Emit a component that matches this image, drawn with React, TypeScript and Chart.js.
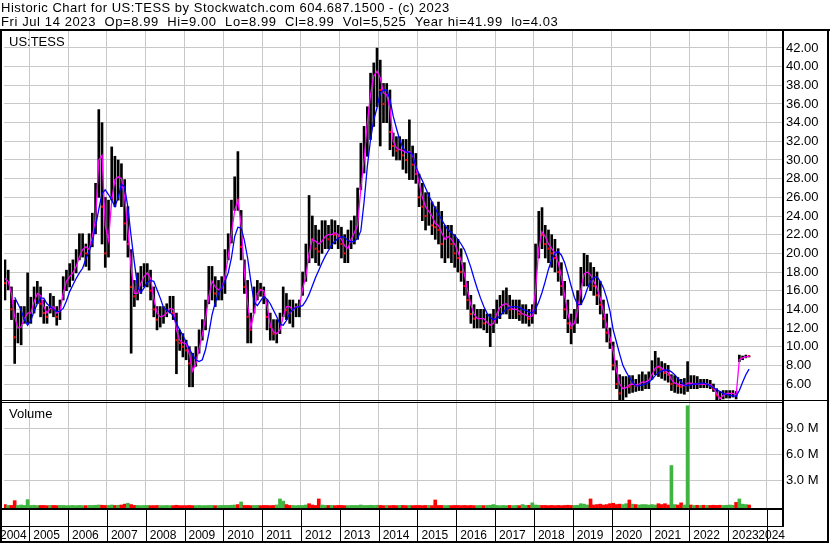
import React, { useEffect, useRef } from 'react';
import { Chart, registerables } from 'chart.js';

Chart.register(...registerables);

// ---------- text ----------
const HEADER1 = 'Historic Chart for US:TESS by Stockwatch.com 604.687.1500 - (c) 2023';
const HEADER2 = 'Fri Jul 14 2023  Op=8.99  Hi=9.00  Lo=8.99  Cl=8.99  Vol=5,525  Year hi=41.99  lo=4.03';
const PRICE_LABEL = 'US:TESS';
const VOLUME_LABEL = 'Volume';

// ---------- categories / ticks ----------
const FIRST_MONTH = '2004-05';
const yearTicks = [2004, 2005, 2006, 2007, 2008, 2009, 2010, 2011, 2012, 2013, 2014, 2015, 2016, 2017, 2018, 2019, 2020, 2021, 2022, 2023, 2024];
const priceTicks = [6, 8, 10, 12, 14, 16, 18, 20, 22, 24, 26, 28, 30, 32, 34, 36, 38, 40, 42];
const volumeTicks = [3, 6, 9];

// ---------- monthly data (May 2004 .. Jul 2023) ----------
const high = [
  19.3, 18.2, 16.4, 15.0, 13.6, 14.3, 14.3, 17.9,
  15.3, 16.4, 17.0, 16.4, 15.0, 14.3, 15.7, 15.4, 14.3, 15.0, 17.5, 18.2,
  18.9, 19.3, 20.4, 22.1, 22.1, 21.0, 22.1, 24.3, 27.5, 35.4, 34.0, 26.0,
  25.7, 31.4, 30.4, 30.0, 29.6, 27.9, 25.0, 20.4, 17.1, 17.9, 18.6, 18.9,
  18.9, 18.2, 16.4, 14.3, 14.3, 14.3, 14.6, 15.4, 15.4, 13.6, 11.8, 11.4,
  10.7, 10.0, 9.3, 10.0, 11.8, 12.9, 15.0, 18.6, 18.6, 17.5, 17.1, 17.5,
  20.4, 22.1, 25.7, 28.2, 30.9, 24.6, 19.3, 17.1, 13.6, 16.4, 17.1, 16.8,
  16.4, 15.0, 13.6, 12.9, 12.9, 13.6, 16.4, 15.7, 15.0, 15.0, 14.6, 15.0,
  18.0, 21.0, 26.2, 24.0, 23.0, 22.5, 23.5, 23.5, 23.0, 23.6, 23.5, 23.0,
  22.8, 22.0, 22.5, 23.5, 24.0, 27.0, 31.8, 33.6, 35.7, 39.3, 40.4, 41.99,
  40.7, 38.2, 38.2, 37.5, 32.9, 32.5, 32.5, 32.2, 32.2, 34.3, 31.5, 30.7,
  28.5, 27.5, 26.5, 26.5, 25.5, 25.0, 25.5, 24.5, 23.0, 23.0, 23.0, 22.0,
  21.5, 20.5, 19.0, 17.0, 15.5, 14.5, 14.0, 14.0, 14.0, 13.5, 13.5, 14.0,
  15.0, 15.5, 16.0, 16.3, 15.5, 15.0, 15.0, 15.0, 14.5, 14.5, 14.0, 14.5,
  21.0, 24.5, 24.9, 23.0, 22.5, 22.0, 21.5, 20.5, 19.0, 17.0, 15.0, 13.5,
  14.0, 16.0, 18.5, 20.0, 19.8, 19.0, 18.5, 18.0, 17.0, 15.0, 13.5, 12.0,
  10.5, 8.5, 7.0, 6.8, 6.8, 6.9, 6.9, 6.5, 7.0, 7.3, 7.0, 7.3,
  8.5, 9.5, 8.8, 8.4, 8.2, 8.0, 7.0, 6.9, 6.7, 6.5, 6.6, 8.4,
  6.9, 6.9, 6.8, 6.5, 6.5, 6.5, 6.4, 6.0, 5.5, 5.2, 5.3, 5.3,
  5.3, 5.3, 5.2, 9.1, 9.0, 9.1, 9.0,
];
const low = [
  15.0, 16.1, 12.9, 8.2, 10.4, 10.2, 12.5, 12.5,
  12.5, 13.6, 14.6, 13.2, 12.5, 12.5, 13.6, 13.2, 12.3, 12.9, 15.0, 16.0,
  16.4, 17.1, 17.9, 19.3, 19.6, 18.6, 18.2, 20.7, 22.1, 26.0, 21.0, 18.5,
  19.6, 25.7, 25.0, 25.7, 25.0, 21.4, 19.6, 9.3, 14.3, 15.0, 15.7, 16.4,
  16.4, 15.0, 13.2, 11.8, 12.1, 12.5, 13.2, 13.6, 12.9, 7.1, 9.6, 8.9,
  8.6, 5.7, 5.7, 7.9, 9.3, 10.7, 11.8, 14.6, 15.0, 14.3, 15.0, 15.0,
  15.7, 19.3, 21.1, 24.6, 24.6, 19.3, 15.7, 10.4, 10.4, 13.6, 15.0, 15.4,
  14.6, 11.8, 10.7, 10.7, 10.4, 11.4, 13.2, 12.9, 12.5, 12.1, 13.2, 13.2,
  15.5, 17.0, 19.0, 19.5, 19.0, 18.7, 20.0, 20.5, 20.5, 20.5, 21.0, 20.5,
  19.5, 19.0, 19.0, 20.5, 21.0, 21.5, 26.8, 28.6, 30.4, 32.2, 33.6, 35.7,
  31.5, 34.0, 34.0, 31.1, 30.4, 30.0, 30.0, 29.0, 28.6, 27.9, 27.9, 27.5,
  25.0, 23.5, 22.5, 23.0, 22.0, 21.5, 21.0, 19.5, 19.0, 19.5, 19.0, 18.5,
  18.0, 17.0, 15.5, 14.0, 12.5, 12.0, 12.0, 12.0, 11.8, 11.5, 10.0, 11.5,
  12.5, 13.0, 13.5, 13.5, 13.0, 13.0, 13.0, 12.8, 12.5, 12.5, 12.2, 12.5,
  13.5, 19.5, 20.5, 19.5, 19.0, 18.5, 18.0, 17.0, 15.5, 13.0, 11.5, 10.3,
  11.5, 12.5, 14.5, 16.5, 16.5, 16.0, 15.5, 14.5, 13.5, 12.0, 10.5, 9.8,
  7.5, 5.5, 4.2, 4.3, 4.6, 5.0, 5.1, 5.2, 5.3, 5.3, 5.5, 5.5,
  6.5, 7.0, 6.8, 6.6, 6.4, 6.2, 5.3, 5.1, 5.0, 5.0, 4.9, 5.2,
  5.5, 5.5, 5.5, 5.6, 5.6, 5.6, 5.5, 5.2, 4.3, 4.03, 4.4, 4.5,
  4.5, 4.6, 4.4, 8.4, 8.6, 8.8, 8.9,
];
const close = [
  16.8, 16.8, 14.0, 11.0, 11.6, 12.5, 13.4, 13.9,
  14.3, 15.4, 15.7, 14.6, 13.6, 13.2, 14.6, 14.0, 13.2, 14.3, 16.8, 17.5,
  17.9, 18.2, 19.3, 20.4, 21.0, 20.0, 21.4, 23.6, 25.7, 33.0, 25.0, 20.0,
  24.3, 28.2, 27.5, 28.6, 27.1, 23.2, 21.0, 16.4, 15.4, 16.8, 17.5, 17.5,
  17.9, 16.0, 14.0, 12.9, 13.2, 13.6, 13.9, 14.6, 13.6, 10.7, 10.4, 10.0,
  9.6, 8.2, 7.5, 9.3, 10.7, 12.1, 14.0, 17.1, 17.1, 15.7, 16.0, 16.4,
  18.6, 21.0, 24.3, 27.1, 25.7, 20.7, 16.4, 13.2, 11.8, 15.4, 16.4, 16.1,
  15.4, 13.2, 12.1, 11.4, 11.4, 12.5, 14.6, 13.9, 13.6, 13.9, 14.3, 14.3,
  17.5, 20.0, 22.0, 21.5, 20.5, 20.2, 22.0, 22.5, 21.5, 22.5, 22.0, 21.8,
  21.0, 20.0, 21.5, 22.5, 22.5, 26.0, 29.5, 31.5, 33.5, 37.0, 38.5, 39.0,
  37.5, 36.0, 36.5, 33.0, 31.5, 31.0, 31.0, 30.5, 30.0, 30.5, 29.5, 28.5,
  26.0, 25.0, 24.0, 24.5, 23.0, 22.8, 22.5, 21.0, 21.0, 22.0, 21.0, 20.0,
  19.5, 18.0, 16.5, 15.0, 13.5, 13.0, 13.0, 13.0, 12.5, 12.5, 12.5, 13.0,
  14.0, 14.5, 14.5, 14.5, 14.0, 14.0, 14.0, 13.5, 13.5, 13.5, 13.0, 13.5,
  20.0, 22.5, 22.0, 21.0, 20.5, 20.0, 19.5, 18.0, 16.5, 14.0, 12.5, 12.0,
  13.0, 15.0, 17.5, 18.0, 18.0, 17.0, 16.5, 15.5, 14.5, 13.0, 11.5, 10.5,
  8.0, 6.0, 5.0, 5.5, 5.8, 5.7, 6.0, 5.8, 6.3, 6.3, 6.5, 6.8,
  7.8, 8.0, 7.8, 7.5, 7.2, 7.0, 6.0, 6.0, 5.8, 5.7, 5.8, 6.5,
  6.0, 6.2, 6.0, 6.1, 6.0, 6.0, 5.8, 5.5, 4.8, 4.5, 5.0, 5.0,
  5.0, 5.0, 4.8, 8.8, 8.9, 9.0, 8.99,
];
const maShort = [
  17.3, 17.0, 15.7, 13.2, 12.0, 12.1, 13.0, 13.6,
  13.6, 14.8, 15.7, 15.5, 14.3, 13.6, 14.1, 14.3, 13.6, 13.8, 15.7, 17.0,
  17.5, 17.9, 18.6, 19.6, 20.4, 20.7, 20.4, 21.8, 23.6, 30.0, 30.5, 23.0,
  21.4, 25.7, 27.9, 28.2, 28.0, 26.0, 22.5, 18.5, 15.7, 15.7, 16.8, 17.5,
  17.9, 17.3, 15.2, 13.6, 13.2, 13.3, 13.6, 14.1, 14.0, 11.8, 10.7, 10.4,
  10.3, 9.2, 7.4, 8.2, 9.8, 11.3, 13.0, 15.3, 17.0, 16.4, 16.1, 16.2,
  17.5, 19.6, 22.1, 24.6, 25.7, 23.0, 18.0, 14.6, 12.1, 13.6, 15.7, 16.1,
  16.0, 14.4, 12.3, 11.6, 11.4, 11.8, 13.2, 14.3, 14.3, 13.9, 14.3, 14.3,
  16.2, 17.5, 20.0, 21.5, 21.3, 21.0, 21.3, 21.8, 22.0, 22.0, 22.2, 22.0,
  21.5, 20.8, 20.5, 21.5, 22.2, 23.0, 27.0, 30.0, 34.0, 37.0, 39.0, 39.5,
  38.8, 37.2, 37.0, 35.5, 32.0, 31.3, 31.1, 31.0, 30.8, 30.9, 30.5, 29.3,
  27.5, 26.0, 25.0, 24.5, 24.0, 23.2, 23.0, 22.2, 21.5, 21.8, 21.5, 21.0,
  20.2, 19.2, 17.8, 16.0, 14.5, 13.5, 13.0, 13.0, 13.0, 12.6, 12.3, 12.5,
  13.5, 14.2, 14.5, 14.6, 14.3, 14.0, 14.0, 13.8, 13.5, 13.4, 13.2, 13.3,
  16.0, 20.5, 22.3, 21.8, 21.0, 20.5, 20.0, 19.0, 17.5, 15.5, 13.5, 12.2,
  12.5, 13.8, 16.0, 17.8, 18.0, 17.7, 17.0, 16.3, 15.2, 13.8, 12.2, 11.0,
  9.5, 7.5, 6.0, 5.5, 5.6, 5.9, 6.0, 5.9, 6.0, 6.2, 6.2, 6.4,
  7.0, 7.7, 7.9, 7.7, 7.4, 7.2, 6.5, 6.1, 6.0, 5.9, 5.8, 6.1,
  6.1, 6.0, 6.0, 6.0, 6.0, 6.0, 5.9, 5.6, 5.0, 4.4, 4.8, 5.0,
  5.0, 5.0, 4.8, 8.6, 8.8, 8.9, 8.99,
];
const maLong = [
  null, null, null, 15.3, 14.6, 13.9, 12.9, 12.3,
  12.8, 13.8, 14.6, 15.2, 15.2, 14.6, 14.3, 14.0, 13.75, 13.8, 14.1, 14.9,
  15.9, 16.6, 17.3, 17.9, 18.4, 19.4, 20.2, 21.2, 22.9, 24.7, 26.4, 26.8,
  26.3, 25.7, 25.0, 26.0, 27.4, 27.1, 24.9, 21.8, 19.0, 16.4, 15.8, 16.3,
  16.9, 17.1, 17.0, 16.1, 15.2, 14.2, 13.9, 13.7, 13.3, 12.5, 11.8, 11.2,
  10.5, 9.8, 9.1, 8.6, 8.4, 8.6, 9.7, 11.4, 13.4, 14.7, 15.7, 16.3,
  17.0, 17.9, 19.5, 21.8, 22.8, 22.7, 21.4, 19.5, 17.0, 14.8, 14.4, 14.9,
  15.4, 15.1, 14.6, 13.9, 13.2, 12.4, 12.3, 12.8, 13.6, 14.0, 14.2, 14.3,
  14.4, 14.9, 15.6, 16.5, 17.4, 18.2, 19.0, 19.7, 20.3, 20.9, 21.3, 21.6,
  21.8, 21.7, 21.4, 21.2, 21.3, 21.6, 22.4, 25.5, 29.3, 32.2, 34.3, 35.6,
  37.2, 37.5, 37.5, 36.5, 34.7, 33.4, 32.2, 31.3, 30.9, 30.8, 30.6, 29.3,
  28.5, 27.8, 27.0, 26.2, 25.5, 24.8, 24.2, 23.6, 23.0, 22.5, 22.2, 21.9,
  21.5, 21.0, 20.4, 19.5, 18.5, 17.3, 16.2, 15.2, 14.3, 13.6, 13.1, 12.9,
  13.0, 13.3, 13.7, 14.0, 14.2, 14.3, 14.3, 14.2, 14.0, 13.9, 13.7, 13.6,
  14.0, 14.8, 15.8, 17.0, 18.3, 19.3, 20.0, 20.2, 19.8, 19.0, 17.8, 16.5,
  15.3, 14.5, 14.5, 15.2, 16.2, 17.0, 17.4, 17.5, 17.0, 16.3, 15.2, 13.8,
  11.8, 10.5, 9.2, 8.0, 7.3, 6.7, 6.2, 5.8, 5.8, 5.9, 6.0, 6.2,
  6.5, 6.9, 7.2, 7.4, 7.5, 7.5, 7.3, 7.0, 6.6, 6.2, 5.9, 5.8,
  5.9, 6.0, 6.0, 6.1, 6.1, 6.0, 5.8, 5.6, 5.4, 5.2, 5.0, 4.9,
  4.8, 4.7, 4.7, 5.3, 6.2, 7.0, 7.6,
];
// peak daily volume within each month, millions of shares
const volume = [
  0.2, 0.1, 0.1, 0.65, 0.1, 0.15, 0.1, 0.77,
  0.1, 0.12, 0.08, 0.1, 0.1, 0.08, 0.1, 0.1, 0.08, 0.1, 0.1, 0.08,
  0.08, 0.1, 0.08, 0.1, 0.08, 0.08, 0.1, 0.1, 0.12, 0.15, 0.12, 0.1,
  0.1, 0.15, 0.1, 0.12, 0.15, 0.25, 0.35, 0.2, 0.1, 0.1, 0.08, 0.1,
  0.1, 0.08, 0.08, 0.1, 0.08, 0.08, 0.1, 0.08, 0.08, 0.12, 0.08, 0.08,
  0.08, 0.1, 0.08, 0.08, 0.1, 0.08, 0.08, 0.1, 0.1, 0.08, 0.08, 0.1,
  0.1, 0.1, 0.12, 0.15, 0.2, 0.5, 0.1, 0.1, 0.08, 0.1, 0.1, 0.08,
  0.1, 0.1, 0.08, 0.1, 0.15, 0.85, 0.6, 0.2, 0.1, 0.1, 0.08, 0.1,
  0.1, 0.15, 0.3, 0.15, 0.1, 0.85, 0.15, 0.1, 0.1, 0.1, 0.08, 0.1,
  0.1, 0.08, 0.08, 0.1, 0.1, 0.1, 0.15, 0.1, 0.1, 0.12, 0.1, 0.12,
  0.1, 0.08, 0.1, 0.08, 0.1, 0.08, 0.1, 0.1, 0.08, 0.1, 0.08, 0.1,
  0.1, 0.08, 0.1, 0.1, 0.08, 0.73, 0.1, 0.1, 0.08, 0.1, 0.08, 0.1,
  0.1, 0.08, 0.1, 0.08, 0.1, 0.08, 0.08, 0.1, 0.08, 0.1, 0.12, 0.2,
  0.1, 0.08, 0.1, 0.08, 0.1, 0.08, 0.1, 0.08, 0.2, 0.1, 0.12, 0.4,
  0.15, 0.12, 0.1, 0.1, 0.08, 0.1, 0.08, 0.1, 0.08, 0.1, 0.12, 0.1,
  0.1, 0.12, 0.3, 0.25, 0.15, 0.85, 0.15, 0.2, 0.25, 0.15, 0.2, 0.3,
  0.35, 0.2, 0.25, 0.2, 0.3, 0.73, 0.25, 0.2, 0.15, 0.2, 0.2, 0.15,
  0.2, 0.15, 0.3, 0.2, 0.3, 0.15, 4.7, 0.2, 0.15, 0.4, 0.15, 11.6,
  0.15, 0.1, 0.12, 0.1, 0.12, 0.1, 0.1, 0.12, 0.1, 0.12, 0.1, 0.12,
  0.15, 0.12, 0.45, 0.85, 0.25, 0.2, 0.15,
];
// months whose volume bar colour differs from the close-to-close direction
const volumeSideFix: Record<string, 'up' | 'down'> = {
  '2007-07': 'up',
  '2010-06': 'up',
  '2012-03': 'down',
  '2021-07': 'up',
};

// ---------- axis ranges ----------
const X_MIN = 2004.35;
const X_MAX = 2024.39;
const P_MIN = 4.18;
const P_MAX = 43.82;
const V_MIN = -0.196;
const V_MAX = 12.15;

const FONT = '"Liberation Sans", Arial, Helvetica, sans-serif';
const GRID = '#c8c8c8';
const UP = '#40b440';
const DOWN = '#ff0000';

export default function App() {
  const ref = useRef<HTMLCanvasElement>(null);

  useEffect(() => {
    const canvas = ref.current;
    if (!canvas) return;
    const [fy, fm] = FIRST_MONTH.split('-').map(Number);
    const keys: string[] = [];
    const ts: number[] = [];
    for (let i = 0; i < close.length; i++) {
      const m = fm - 1 + i;
      const y = fy + Math.floor(m / 12);
      const mm = m % 12;
      keys.push(`${y}-${String(mm + 1).padStart(2, '0')}`);
      ts.push(y + (mm + 0.5) / 12);
    }
    const isDown = close.map((c, i) => (i === 0 ? true : c < close[i - 1]));
    const volColors = volume.map((_, i) => {
      const fix = volumeSideFix[keys[i]];
      if (fix) return fix === 'up' ? UP : DOWN;
      return isDown[i] ? DOWN : UP;
    });

    const drawSpaced = (ctx: any, text: string, x: number, y: number, spacing: number) => {
      if ('letterSpacing' in ctx) {
        ctx.letterSpacing = `${spacing}px`;
        ctx.fillText(text, x, y);
        ctx.letterSpacing = '0px';
      } else {
        let cx = x;
        for (const ch of text) {
          ctx.fillText(ch, cx, y);
          cx += ctx.measureText(ch).width + spacing;
        }
      }
    };

    const framePlugin = {
      id: 'stockFrame',
      beforeDraw(chart: any) {
        const ctx = chart.ctx;
        ctx.save();
        ctx.fillStyle = '#ffffff';
        ctx.fillRect(0, 0, chart.width, chart.height);
        ctx.restore();
      },
      afterDraw(chart: any) {
        const ctx: CanvasRenderingContext2D = chart.ctx;
        const xs = chart.scales.x;
        const area = chart.chartArea;
        const R = Math.round(area.right);
        ctx.save();
        ctx.fillStyle = '#000';
        // outer frame
        ctx.fillRect(0, 29, 830, 2);
        ctx.fillRect(0, 29, 2, 514);
        ctx.fillRect(827, 29, 2, 514);
        ctx.fillRect(0, 541, 829, 2);
        // axis column divider
        ctx.fillRect(R, 29, 2, 498);
        // price / volume separator (double line)
        ctx.fillRect(0, 400, 827, 1);
        ctx.fillRect(0, 402, R, 1);
        // volume bottom
        ctx.fillRect(0, 508, R + 2, 2);
        // year row
        ctx.fillRect(0, 526, R + 2, 1);
        ctx.font = `12px ${FONT}`;
        ctx.textBaseline = 'alphabetic';
        ctx.textAlign = 'left';
        for (const yr of yearTicks) {
          const px = xs.getPixelForValue(yr);
          if (px > 2 && px < R) ctx.fillRect(Math.round(px), 510, 1, 31);
          const label = String(yr);
          const w = ctx.measureText(label).width;
          const tx = Math.min(Math.max(px + 4, 0), R + 3 - w);
          ctx.fillText(label, tx, 539);
        }
        // texts
        ctx.font = `13px ${FONT}`;
        drawSpaced(ctx, HEADER1, 1, 12, 0.5);
        drawSpaced(ctx, HEADER2, 1, 26, 0.6);
        ctx.fillText(PRICE_LABEL, 9, 46);
        ctx.fillText(VOLUME_LABEL, 9, 418);
        ctx.restore();
      },
    };

    const chart = new Chart(canvas, {
      type: 'bar',
      data: {
        datasets: [
          {
            type: 'bar',
            label: 'range',
            data: ts.map((t, i) => ({ x: t, y: [low[i], high[i]] })) as any,
            backgroundColor: '#000',
            borderWidth: 0,
            barThickness: 2,
            grouped: false,
            yAxisID: 'y',
            order: 5,
          } as any,
          {
            type: 'line',
            label: 'close (down months)',
            data: ts.map((t, i) => ({ x: t, y: isDown[i] ? close[i] : null })),
            showLine: false,
            pointStyle: 'rect',
            pointRadius: 1.5,
            pointBackgroundColor: DOWN,
            pointBorderWidth: 0,
            yAxisID: 'y',
            order: 4,
          } as any,
          {
            type: 'line',
            label: 'ma short',
            data: ts.map((t, i) => ({ x: t, y: maShort[i] })),
            borderColor: '#ff00ff',
            borderWidth: 1.3,
            pointRadius: 0,
            tension: 0,
            yAxisID: 'y',
            order: 3,
          } as any,
          {
            type: 'line',
            label: 'ma long',
            data: ts.map((t, i) => ({ x: t, y: maLong[i] })),
            borderColor: '#0000ff',
            borderWidth: 1.3,
            pointRadius: 0,
            tension: 0,
            spanGaps: false,
            yAxisID: 'y',
            order: 2,
          } as any,
          {
            type: 'bar',
            label: 'volume',
            data: ts.map((t, i) => ({ x: t, y: volume[i] })),
            backgroundColor: volColors,
            borderWidth: 0,
            barThickness: 3,
            grouped: false,
            base: V_MIN,
            yAxisID: 'yv',
            order: 6,
          } as any,
        ],
      },
      options: {
        animation: false,
        responsive: false,
        devicePixelRatio: 1,
        events: [],
        layout: { padding: { left: 2, top: 31, right: 0, bottom: 35 } },
        plugins: { legend: { display: false }, tooltip: { enabled: false }, title: { display: false } },
        scales: {
          x: {
            type: 'linear',
            position: 'bottom',
            offset: false,
            min: X_MIN,
            max: X_MAX,
            afterBuildTicks: (s: any) => {
              s.ticks = yearTicks.filter((v) => v > X_MIN && v < X_MAX).map((v) => ({ value: v }));
            },
            afterFit: (s: any) => {
              s.height = 0;
            },
            ticks: { display: false },
            grid: { color: GRID, lineWidth: 1, drawTicks: false, offset: false },
            border: { display: false },
          },
          y: {
            type: 'linear',
            position: 'right',
            stack: 'panels',
            stackWeight: 370,
            weight: 0,
            min: P_MIN,
            max: P_MAX,
            afterBuildTicks: (s: any) => {
              s.ticks = priceTicks.map((v) => ({ value: v }));
            },
            afterFit: (s: any) => {
              s.width = 48;
            },
            ticks: {
              autoSkip: false,
              padding: 4,
              color: '#000',
              font: { family: FONT, size: 13 },
              callback: (v: any) => Number(v).toFixed(2),
            },
            grid: { color: GRID, lineWidth: 1, drawTicks: false },
            border: { display: false },
          },
          yv: {
            type: 'linear',
            position: 'right',
            stack: 'panels',
            stackWeight: 107,
            weight: 1,
            min: V_MIN,
            max: V_MAX,
            afterBuildTicks: (s: any) => {
              s.ticks = volumeTicks.map((v) => ({ value: v }));
            },
            afterFit: (s: any) => {
              s.width = 48;
            },
            ticks: {
              autoSkip: false,
              padding: 4,
              color: '#000',
              font: { family: FONT, size: 13 },
              callback: (v: any) => `${Number(v).toFixed(1)} M`,
            },
            grid: { color: GRID, lineWidth: 1, drawTicks: false },
            border: { display: false },
          },
        },
      } as any,
      plugins: [framePlugin],
    });
    return () => chart.destroy();
  }, []);

  return (
    <div style={{ position: 'absolute', left: 0, top: 0, width: 830, height: 543, background: '#fff' }}>
      <canvas ref={ref} width={830} height={543} style={{ display: 'block', width: 830, height: 543 }} />
    </div>
  );
}
